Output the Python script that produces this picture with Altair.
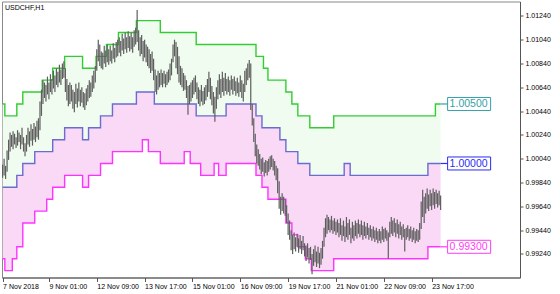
import altair as alt
import pandas as pd

# ---- axis ticks ----
time_tick_idx = [0, 31, 63, 95, 127, 159, 191, 223, 255, 287]
time_tick_labels = ["7 Nov 2018", "9 Nov 01:00", "12 Nov 09:00", "13 Nov 17:00", "15 Nov 01:00",
                    "16 Nov 09:00", "19 Nov 17:00", "21 Nov 01:00", "22 Nov 09:00", "23 Nov 17:00"]
price_ticks = [0.9924, 0.9944, 0.9964, 0.9984, 1.0004, 1.0024, 1.0044, 1.0064, 1.0084, 1.0104, 1.0124]

# ---- H1 bars (low / high), USDCHF ----
bar_low = [
    0.9988, 0.9990, 0.9987, 0.9993, 1.0003, 1.0010, 1.0014, 1.0012, 1.0016, 1.0013,
    1.0015, 1.0018, 1.0012, 1.0016, 1.0010, 1.0006, 1.0010, 1.0016, 1.0014, 1.0019,
    1.0015, 1.0020, 1.0018, 1.0022, 1.0020, 1.0028, 1.0040, 1.0050, 1.0055, 1.0052,
    1.0058, 1.0054, 1.0060, 1.0058, 1.0063, 1.0060, 1.0066, 1.0064, 1.0068, 1.0066,
    1.0071, 1.0072, 1.0060, 1.0053, 1.0048, 1.0050, 1.0052, 1.0046, 1.0043, 1.0050,
    1.0047, 1.0052, 1.0048, 1.0051, 1.0047, 1.0045, 1.0049, 1.0052, 1.0055, 1.0056,
    1.0060, 1.0063, 1.0068, 1.0078, 1.0086, 1.0082, 1.0080, 1.0079, 1.0084, 1.0081,
    1.0085, 1.0083, 1.0086, 1.0084, 1.0088, 1.0085, 1.0089, 1.0090, 1.0093, 1.0090,
    1.0095, 1.0092, 1.0096, 1.0093, 1.0097, 1.0094, 1.0096, 1.0093, 1.0098, 1.0100,
    1.0102, 1.0095, 1.0090, 1.0092, 1.0086, 1.0089, 1.0085, 1.0082, 1.0080, 1.0076,
    1.0078, 1.0070, 1.0060, 1.0058, 1.0062, 1.0064, 1.0066, 1.0064, 1.0067, 1.0064,
    1.0066, 1.0068, 1.0070, 1.0074, 1.0085, 1.0090, 1.0080, 1.0075, 1.0068, 1.0066,
    1.0064, 1.0061, 1.0062, 1.0055, 1.0041, 1.0050, 1.0052, 1.0055, 1.0058, 1.0060,
    1.0054, 1.0050, 1.0048, 1.0052, 1.0049, 1.0050, 1.0053, 1.0056, 1.0060, 1.0054,
    1.0049, 1.0042, 1.0035, 1.0046, 1.0054, 1.0058, 1.0055, 1.0060, 1.0057, 1.0061,
    1.0058, 1.0060, 1.0057, 1.0062, 1.0058, 1.0061, 1.0057, 1.0059, 1.0056, 1.0060,
    1.0055, 1.0052, 1.0060, 1.0066, 1.0070, 1.0072, 1.0045, 1.0032, 1.0018, 1.0006,
    1.0000, 0.9998, 0.9995, 0.9991, 0.9993, 0.9989, 0.9992, 0.9990, 0.9993, 0.9995,
    0.9997, 0.9994, 0.9990, 0.9986, 0.9975, 0.9962, 0.9957, 0.9960, 0.9958, 0.9956,
    0.9950, 0.9940, 0.9936, 0.9927, 0.9924, 0.9928, 0.9926, 0.9930, 0.9925, 0.9928,
    0.9924, 0.9927, 0.9922, 0.9918, 0.9921, 0.9916, 0.9919, 0.9907, 0.9914, 0.9917,
    0.9913, 0.9916, 0.9912, 0.9915, 0.9920, 0.9930, 0.9938, 0.9941, 0.9944, 0.9942,
    0.9944, 0.9941, 0.9943, 0.9940, 0.9942, 0.9938, 0.9940, 0.9935, 0.9939, 0.9934,
    0.9938, 0.9936, 0.9940, 0.9933, 0.9937, 0.9935, 0.9939, 0.9937, 0.9941, 0.9938,
    0.9940, 0.9936, 0.9939, 0.9937, 0.9940, 0.9936, 0.9938, 0.9935, 0.9937, 0.9934,
    0.9936, 0.9933, 0.9935, 0.9933, 0.9936, 0.9934, 0.9937, 0.9935, 0.9920, 0.9938,
    0.9941, 0.9939, 0.9942, 0.9938, 0.9941, 0.9937, 0.9940, 0.9936, 0.9938, 0.9926,
    0.9936, 0.9938, 0.9935, 0.9937, 0.9934, 0.9936, 0.9933, 0.9935, 0.9934, 0.9936,
    0.9945, 0.9955, 0.9950, 0.9958, 0.9962, 0.9960, 0.9964, 0.9961, 0.9965, 0.9962,
    0.9966, 0.9963, 0.9965, 0.9961,
]
bar_high = [
    0.9999, 1.0004, 0.9998, 1.0011, 1.0020, 1.0026, 1.0024, 1.0027, 1.0025, 1.0022,
    1.0028, 1.0026, 1.0024, 1.0030, 1.0022, 1.0017, 1.0024, 1.0030, 1.0027, 1.0033,
    1.0029, 1.0034, 1.0031, 1.0036, 1.0038, 1.0052, 1.0062, 1.0070, 1.0068, 1.0066,
    1.0073, 1.0068, 1.0075, 1.0071, 1.0078, 1.0074, 1.0080, 1.0077, 1.0083, 1.0079,
    1.0084, 1.0086, 1.0080, 1.0071, 1.0066, 1.0068, 1.0066, 1.0062, 1.0060, 1.0067,
    1.0063, 1.0068, 1.0062, 1.0064, 1.0060, 1.0059, 1.0063, 1.0066, 1.0070, 1.0068,
    1.0074, 1.0078, 1.0082, 1.0096, 1.0104, 1.0100, 1.0094, 1.0093, 1.0099, 1.0095,
    1.0100, 1.0096, 1.0099, 1.0095, 1.0101, 1.0097, 1.0102, 1.0104, 1.0106, 1.0103,
    1.0109, 1.0105, 1.0110, 1.0106, 1.0111, 1.0107, 1.0110, 1.0106, 1.0112, 1.0114,
    1.0129, 1.0112, 1.0106, 1.0108, 1.0103, 1.0104, 1.0100, 1.0098, 1.0096, 1.0092,
    1.0094, 1.0088, 1.0079, 1.0074, 1.0078, 1.0076, 1.0079, 1.0076, 1.0078, 1.0075,
    1.0077, 1.0079, 1.0084, 1.0088, 1.0100, 1.0104, 1.0102, 1.0098, 1.0090, 1.0082,
    1.0080, 1.0076, 1.0074, 1.0070, 1.0065, 1.0066, 1.0068, 1.0070, 1.0072, 1.0074,
    1.0068, 1.0064, 1.0062, 1.0066, 1.0061, 1.0064, 1.0066, 1.0071, 1.0077, 1.0072,
    1.0065, 1.0060, 1.0056, 1.0064, 1.0070, 1.0075, 1.0071, 1.0077, 1.0072, 1.0076,
    1.0071, 1.0073, 1.0070, 1.0074, 1.0071, 1.0073, 1.0069, 1.0072, 1.0068, 1.0074,
    1.0070, 1.0067, 1.0078, 1.0080, 1.0084, 1.0087, 1.0084, 1.0050, 1.0038, 1.0025,
    1.0016, 1.0012, 1.0008, 1.0004, 1.0005, 1.0001, 1.0003, 1.0002, 1.0004, 1.0006,
    1.0007, 1.0004, 1.0002, 0.9998, 0.9996, 0.9985, 0.9972, 0.9975, 0.9972, 0.9970,
    0.9965, 0.9958, 0.9952, 0.9944, 0.9940, 0.9942, 0.9938, 0.9941, 0.9937, 0.9940,
    0.9935, 0.9939, 0.9933, 0.9931, 0.9933, 0.9929, 0.9930, 0.9924, 0.9928, 0.9931,
    0.9926, 0.9930, 0.9925, 0.9929, 0.9935, 0.9946, 0.9954, 0.9957, 0.9955, 0.9953,
    0.9956, 0.9952, 0.9954, 0.9951, 0.9953, 0.9950, 0.9954, 0.9948, 0.9952, 0.9947,
    0.9955, 0.9950, 0.9953, 0.9946, 0.9951, 0.9948, 0.9952, 0.9950, 0.9953, 0.9949,
    0.9952, 0.9948, 0.9951, 0.9947, 0.9950, 0.9946, 0.9948, 0.9945, 0.9947, 0.9944,
    0.9946, 0.9943, 0.9945, 0.9943, 0.9947, 0.9945, 0.9946, 0.9944, 0.9942, 0.9951,
    0.9955, 0.9952, 0.9954, 0.9950, 0.9953, 0.9949, 0.9951, 0.9947, 0.9949, 0.9945,
    0.9946, 0.9948, 0.9945, 0.9947, 0.9944, 0.9946, 0.9943, 0.9945, 0.9944, 0.9950,
    0.9968, 0.9978, 0.9972, 0.9975, 0.9979, 0.9974, 0.9978, 0.9975, 0.9979, 0.9976,
    0.9978, 0.9975, 0.9977, 0.9973,
]
n_bars = len(bar_low)
assert n_bars == len(bar_high) == 294

# ---- channel levels: bar index where each level starts, and the level ----
upper_start = [0, 2, 10, 14, 27, 34, 42, 54, 63, 70, 78, 90, 106, 130, 170, 175, 178, 190, 194, 198, 206, 222, 290]
upper_level = [1.005, 1.004, 1.005, 1.006, 1.007, 1.008, 1.009, 1.008, 1.009, 1.010, 1.011, 1.012, 1.011, 1.010,
               1.009, 1.008, 1.007, 1.006, 1.005, 1.004, 1.003, 1.004, 1.005]
middle_start = [0, 10, 14, 22, 34, 42, 54, 58, 66, 74, 90, 102, 130, 150, 170, 174, 186, 190, 198, 206, 229, 233, 285]
middle_level = [0.998, 0.999, 1.000, 1.001, 1.002, 1.003, 1.002, 1.003, 1.004, 1.005, 1.006, 1.005, 1.004, 1.005,
                1.004, 1.003, 1.002, 1.001, 1.000, 0.999, 1.000, 0.999, 1.000]
lower_start = [0, 2, 7, 10, 14, 22, 30, 34, 42, 54, 58, 66, 74, 94, 98, 106, 122, 126, 133, 142, 145, 150, 170,
               174, 178, 190, 194, 198, 203, 207, 222, 285]
lower_level = [0.992, 0.991, 0.992, 0.993, 0.995, 0.996, 0.997, 0.998, 0.999, 0.998, 0.999, 1.000, 1.001, 1.002,
               1.001, 1.000, 1.001, 1.000, 0.999, 1.000, 0.999, 1.000, 0.999, 0.998, 0.997, 0.995, 0.994, 0.993,
               0.992, 0.991, 0.992, 0.993]

label_text = ["1.00500", "1.00000", "0.99300"]
label_color = ["#35a0a6", "#2b2bf2", "#ff3cf5"]


def runs_to_bars(starts, levels, n):
    out = []
    for k, s in enumerate(starts):
        e = starts[k + 1] if k + 1 < len(starts) else n
        out += [levels[k]] * (e - s)
    return out


upper = runs_to_bars(upper_start, upper_level, n_bars)
middle = runs_to_bars(middle_start, middle_level, n_bars)
lower = runs_to_bars(lower_start, lower_level, n_bars)

df = pd.DataFrame({"i": list(range(n_bars)), "low": bar_low, "high": bar_high,
                   "upper": upper, "middle": middle, "lower": lower})
last = n_bars - 1
lab_df = pd.DataFrame({"i": [last] * 3, "level": [upper[-1], middle[-1], lower[-1]],
                       "text": label_text, "color": label_color})

FONT = "Liberation Sans"
x_scale = alt.Scale(domain=[-0.4, 346.1], nice=False, zero=False)
y_scale = alt.Scale(domain=[0.99042, 1.01361], nice=False, zero=False)

label_expr = ("[" + ",".join("'%s'" % t for t in time_tick_labels) + "][indexof(["
              + ",".join(str(v) for v in time_tick_idx) + "], datum.value)]")

x_axis = alt.Axis(values=time_tick_idx, labelExpr=label_expr, grid=False, tickSize=4, labelPadding=1,
                  labelAlign="left", labelFont=FONT, labelFontSize=7, labelColor="#000", domainColor="#555",
                  tickColor="#555", labelOverlap=False, labelFlush=False, title=None)
y_axis = alt.Axis(values=price_ticks, format=".5f", orient="right", grid=False, tickSize=3, labelPadding=2,
                  labelFont=FONT, labelFontSize=7, labelColor="#000", domainColor="#555", tickColor="#555",
                  labelOverlap=False, labelFlush=False, labelBound=False, title=None)


def XA(f="i:Q"):
    return alt.X(f, scale=x_scale, axis=x_axis)


def YA(f):
    return alt.Y(f, scale=y_scale, axis=y_axis)


base = alt.Chart(df)

green_fill = base.mark_area(interpolate="step", color="#effcef").encode(
    x=XA(), y=YA("upper:Q"), y2="middle:Q")
pink_fill = base.mark_area(interpolate="step", color="#f9d9f6").encode(
    x=XA(), y=YA("middle:Q"), y2="lower:Q")

upper_line = base.mark_line(interpolate="step", color="#33cc33", strokeWidth=1.4).encode(
    x=XA(), y=YA("upper:Q"))
middle_line = base.mark_line(interpolate="step", color="#6b6bd0", strokeWidth=1.4).encode(
    x=XA(), y=YA("middle:Q"))
lower_line = base.mark_line(interpolate="step", color="#ff33ff", strokeWidth=1.4).encode(
    x=XA(), y=YA("lower:Q"))

candles = base.mark_rule(color="#5e5e5e", strokeWidth=1.2).encode(
    x=XA(), y=YA("low:Q"), y2="high:Q")

lab = alt.Chart(lab_df)
connector = lab.mark_rule(strokeWidth=1.2, x2Offset=7).encode(
    x=XA(), x2="i:Q", y=YA("level:Q"), color=alt.Color("color:N", scale=None))
boxes = lab.mark_rect(fill="white", strokeWidth=1, xOffset=7, x2Offset=50, yOffset=-6.5, y2Offset=6.5).encode(
    x=XA(), x2="i:Q", y=YA("level:Q"), y2="level:Q", stroke=alt.Stroke("color:N", scale=None))
texts = lab.mark_text(align="left", baseline="middle", dx=9, dy=0.5, font=FONT, fontSize=10.5).encode(
    x=XA(), y=YA("level:Q"), text="text:N", color=alt.Color("color:N", scale=None))

title = alt.Chart(pd.DataFrame({"t": ["USDCHF,H1"]})).mark_text(
    align="left", baseline="middle", font=FONT, fontSize=7, color="#000").encode(
    x=alt.value(3), y=alt.value(6), text="t:N")

chart = alt.layer(green_fill, pink_fill, upper_line, middle_line, lower_line, candles,
                  connector, boxes, texts, title).properties(
    width=518, height=276,
    autosize=alt.AutoSizeParams(type="none"),
    padding={"left": 2, "top": 1.5, "right": 40, "bottom": 16.5},
    background="white",
).configure_view(stroke="#888888", strokeWidth=1).configure_axis(labelOverlap=False)

chart.save("out.html", embed_options={"renderer": "svg", "actions": False})
